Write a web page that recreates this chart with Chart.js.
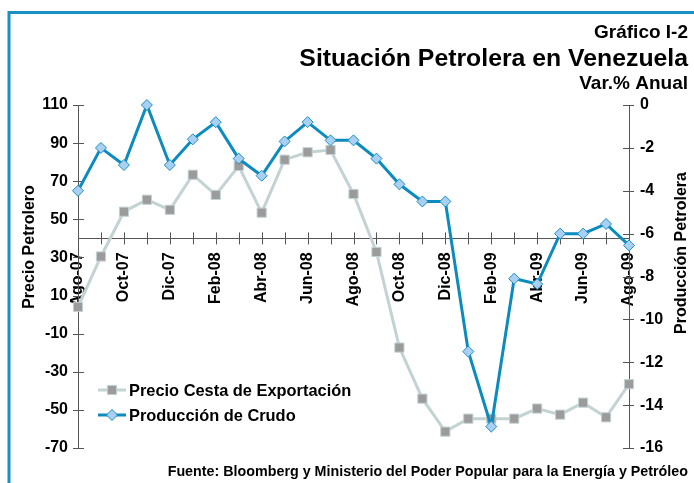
<!DOCTYPE html>
<html><head><meta charset="utf-8">
<script src="https://cdn.jsdelivr.net/npm/chart.js@4/dist/chart.umd.min.js"></script>
<style>html,body{margin:0;padding:0;background:#fff;overflow:hidden}canvas{display:block}</style>
</head><body>
<canvas id="c" width="694" height="483"></canvas>
<script>
// ---- data ----
const months = ["Ago-07","Sep-07","Oct-07","Nov-07","Dic-07","Ene-08","Feb-08","Mar-08","Abr-08","May-08","Jun-08","Jul-08",
  "Ago-08","Sep-08","Oct-08","Nov-08","Dic-08","Ene-09","Feb-09","Mar-09","Abr-09","May-09","Jun-09","Jul-09","Ago-09"];
const xTickLabels = ["Ago-07","Oct-07","Dic-07","Feb-08","Abr-08","Jun-08","Ago-08","Oct-08","Dic-08","Feb-09","Abr-09","Jun-09","Ago-09"];
const precioCesta = [4, 30.5, 54, 60.3, 55, 73.4, 62.8, 78, 53.5, 81.3, 85.2, 86.4, 63.3, 32.9, -17.3, -44.1, -61.4, -54.6, -54.6, -54.6, -49.3, -52.5, -46.2, -53.9, -36.5];
const produccionCrudo = [-4.0, -2.0, -2.8, 0.0, -2.8, -1.6, -0.8, -2.5, -3.3, -1.7, -0.8, -1.65, -1.65, -2.5, -3.7, -4.5, -4.5, -11.5, -15.0, -8.1, -8.35, -6.0, -6.0, -5.55, -6.55];
const leftAxis = {min: -70, max: 110, step: 20};
const rightAxis = {min: -16, max: 0, step: 2};
const xAxisCrossing = 40;
const seriesNames = ["Precio Cesta de Exportación", "Producción de Crudo"];
const titleLines = ["Gráfico I-2", "Situación Petrolera en Venezuela", "Var.% Anual"];
const axisTitles = ["Precio Petrolero", "Producción Petrolera"];
const sourceText = "Fuente: Bloomberg y Ministerio del Poder Popular para la Energía y Petróleo";

const FONT = "'Liberation Sans', Arial, sans-serif";
const AXIS_COLOR = '#555';

const deco = {
  id: 'deco',
  beforeDraw(chart) {
    const ctx = chart.ctx;
    ctx.save();
    ctx.fillStyle = '#fff';
    ctx.fillRect(0, 0, chart.width, chart.height);
    ctx.strokeStyle = '#1a8fc4';
    ctx.lineWidth = 3;
    ctx.beginPath();
    ctx.moveTo(9, chart.height);
    ctx.lineTo(9, 12.5);
    ctx.lineTo(chart.width, 12.5);
    ctx.stroke();
    ctx.restore();
  },
  beforeDatasetsDraw(chart) {
    const ctx = chart.ctx;
    const {x, y, y1} = chart.scales;
    ctx.save();
    ctx.strokeStyle = AXIS_COLOR;
    ctx.lineWidth = 1;
    ctx.beginPath();
    y.ticks.forEach(t => {
      const py = Math.round(y.getPixelForValue(t.value)) + 0.5;
      ctx.moveTo(y.right - 5, py); ctx.lineTo(y.right + 6, py);
    });
    y1.ticks.forEach(t => {
      const py = Math.round(y1.getPixelForValue(t.value)) + 0.5;
      ctx.moveTo(y1.left - 6, py); ctx.lineTo(y1.left + 5, py);
    });
    const ay = y.getPixelForValue(xAxisCrossing);
    months.forEach((m, i) => {
      const px = Math.round(x.getPixelForValue(i)) + 0.5;
      ctx.moveTo(px, ay - 6); ctx.lineTo(px, ay + 6);
    });
    ctx.stroke();
    ctx.restore();
  },
  afterDraw(chart) {
    const ctx = chart.ctx;
    ctx.save();
    ctx.fillStyle = '#000';
    ctx.textAlign = 'right';
    ctx.textBaseline = 'alphabetic';
    ctx.font = 'bold 19px ' + FONT;
    ctx.fillText(titleLines[0], 688, 38);
    ctx.font = 'bold 24.8px ' + FONT;
    ctx.fillText(titleLines[1], 688, 66);
    ctx.font = 'bold 19px ' + FONT;
    ctx.fillText(titleLines[2], 688, 89);
    ctx.font = 'bold 14.3px ' + FONT;
    ctx.fillText(sourceText, 688, 476);

    // axis titles
    ctx.textAlign = 'center';
    ctx.textBaseline = 'middle';
    ctx.font = 'bold 16px ' + FONT;
    ctx.save(); ctx.translate(30, 247); ctx.rotate(-Math.PI / 2); ctx.fillText(axisTitles[0], 0, 0); ctx.restore();
    ctx.save(); ctx.translate(682, 253); ctx.rotate(-Math.PI / 2); ctx.fillText(axisTitles[1], 0, 0); ctx.restore();

    // legend
    const ds = chart.data.datasets;
    const rows = [390, 415];
    ds.forEach((d, i) => {
      const yy = rows[i];
      ctx.strokeStyle = d.borderColor;
      ctx.lineWidth = d.borderWidth;
      ctx.beginPath(); ctx.moveTo(98, yy); ctx.lineTo(126, yy); ctx.stroke();
      ctx.fillStyle = d.pointBackgroundColor;
      ctx.strokeStyle = d.pointBorderColor;
      ctx.lineWidth = d.pointBorderWidth;
      Chart.helpers.drawPoint(ctx, {pointStyle: d.pointStyle, radius: d.pointRadius, rotation: 0, borderWidth: d.pointBorderWidth}, 112, yy);
      ctx.fillStyle = '#000';
      ctx.textAlign = 'left';
      ctx.textBaseline = 'middle';
      ctx.font = 'bold 16.4px ' + FONT;
      ctx.fillText(d.label, 129, yy + 1);
    });
    ctx.restore();
  }
};

new Chart(document.getElementById('c'), {
  type: 'line',
  data: {
    labels: months,
    datasets: [
      {
        label: seriesNames[0], data: precioCesta, yAxisID: 'y', order: 2,
        borderColor: '#c3d2d3', borderWidth: 3, tension: 0, clip: false,
        pointStyle: 'rect', pointRadius: 6.5, pointBackgroundColor: '#9b9b9b', pointBorderColor: '#c3d2d3', pointBorderWidth: 1
      },
      {
        label: seriesNames[1], data: produccionCrudo, yAxisID: 'y1', order: 1,
        borderColor: '#0c8bbf', borderWidth: 3, tension: 0, clip: false,
        pointStyle: 'rectRot', pointRadius: 5.5, pointBackgroundColor: '#a9d0f2', pointBorderColor: '#1a8fc4', pointBorderWidth: 1
      }
    ]
  },
  options: {
    responsive: false, animation: false, devicePixelRatio: 1,
    layout: {padding: {top: 105, bottom: 35, left: 10, right: 0}},
    plugins: {legend: {display: false}, tooltip: {enabled: false}, title: {display: false}},
    scales: {
      x: {
        type: 'category', position: {y: xAxisCrossing}, offset: false,
        grid: {display: true, drawOnChartArea: false, drawTicks: false},
        border: {display: true, color: AXIS_COLOR, width: 1},
        ticks: {
          autoSkip: false, maxRotation: 90, minRotation: 90, padding: 14, color: '#000',
          font: {family: FONT, size: 16, weight: 'bold'},
          callback: function(v, i) { const l = months[i]; return xTickLabels.includes(l) ? l : ''; }
        }
      },
      y: {
        position: 'left', min: leftAxis.min, max: leftAxis.max,
        grid: {display: true, drawOnChartArea: false, drawTicks: false},
        border: {display: true, color: AXIS_COLOR, width: 1},
        ticks: {stepSize: leftAxis.step, padding: 10, color: '#000', font: {family: FONT, size: 16, weight: 'bold'}},
        afterFit(s) { s.width = 68; }
      },
      y1: {
        position: 'right', min: rightAxis.min, max: rightAxis.max,
        grid: {display: true, drawOnChartArea: false, drawTicks: false},
        border: {display: true, color: AXIS_COLOR, width: 1},
        ticks: {stepSize: rightAxis.step, padding: 11, color: '#000', font: {family: FONT, size: 16, weight: 'bold'}},
        afterFit(s) { s.width = 65; }
      }
    }
  },
  plugins: [deco]
});
</script>
</body></html>
